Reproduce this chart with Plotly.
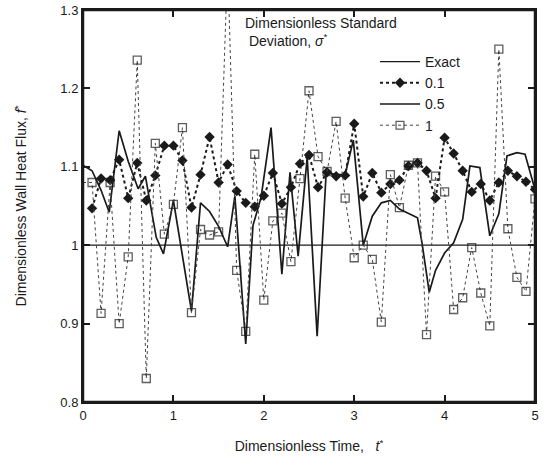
import plotly.graph_objects as go

# ---- data ----
t_grid = [round(0.1 * i, 1) for i in range(51)]

sigma_1 = [1.080, 1.080, 0.913, 1.080, 0.900, 0.985, 1.236, 0.830, 1.130, 1.014,
           1.052, 1.150, 0.914, 1.020, 1.013, 1.017, 1.360, 0.968, 0.890, 1.116,
           0.930, 1.031, 1.041, 0.979, 1.085, 1.197, 1.113, 1.094, 1.158, 1.060,
           0.984, 1.000, 0.982, 0.902, 1.090, 1.048, 1.102, 1.105, 0.886, 1.088,
           1.068, 0.918, 0.933, 0.997, 0.939, 0.897, 1.250, 1.021, 0.959, 0.941,
           1.059]

t_01 = t_grid[1:]
sigma_01 = [1.047, 1.085, 1.083, 1.109, 1.060, 1.105, 1.057, 1.089, 1.127, 1.127,
            1.108, 1.048, 1.090, 1.138, 1.080, 1.103, 1.069, 1.054, 1.049, 1.063,
            1.092, 1.053, 1.074, 1.104, 1.115, 1.074, 1.093, 1.088, 1.089, 1.155,
            1.062, 1.092, 1.067, 1.078, 1.083, 1.101, 1.105, 1.095, 1.060, 1.137,
            1.117, 1.095, 1.068, 1.078, 1.057, 1.080, 1.095, 1.088, 1.081, 1.071]

t_05 = [0.0, 0.1, 0.2, 0.29, 0.4, 0.5, 0.61, 0.69, 0.81, 0.89, 1.0, 1.1, 1.2, 1.3,
        1.4, 1.5, 1.6, 1.68, 1.8, 1.88, 1.97, 2.08, 2.2, 2.29, 2.38, 2.48, 2.59,
        2.69, 2.8, 2.9, 2.99, 3.1, 3.2, 3.3, 3.4, 3.5, 3.6, 3.7, 3.75, 3.83, 3.9,
        4.0, 4.1, 4.2, 4.28, 4.39, 4.5, 4.6, 4.69, 4.8, 4.89, 5.0]
sigma_05 = [1.102, 1.095, 1.070, 1.042, 1.146, 1.107, 1.072, 1.088, 1.010, 0.989,
            1.057, 0.987, 0.916, 1.054, 1.043, 1.024, 0.998, 1.063, 0.874, 1.025,
            1.061, 1.150, 0.963, 1.093, 0.986, 1.112, 0.884, 1.093, 1.090, 1.090,
            1.134, 1.000, 1.037, 1.054, 1.057, 1.046, 1.041, 1.035, 1.003, 0.940,
            0.968, 0.990, 1.003, 1.033, 1.101, 1.099, 1.012, 1.040, 1.114, 1.118,
            1.116, 1.071]

t_exact = [0.0, 5.0]
exact = [1.0, 1.0]

x_range = [0, 5]
y_range = [0.8, 1.3]
x_ticks = [0, 1, 2, 3, 4, 5]
x_labels = ["0", "1", "2", "3", "4", "5"]
y_ticks = [0.8, 0.9, 1.0, 1.1, 1.2, 1.3]
y_labels = ["0.8", "0.9", "1", "1.1", "1.2", "1.3"]

INK = "#1a1a1a"
FONT = "Liberation Sans, Arial, sans-serif"

fig = go.Figure()
fig.add_trace(go.Scatter(x=t_exact, y=exact, mode="lines", name="Exact",
                         line=dict(color=INK, width=1.3)))
fig.add_trace(go.Scatter(x=t_01, y=sigma_01, mode="lines+markers", name="0.1",
                         line=dict(color=INK, width=2, dash="dot"),
                         marker=dict(symbol="diamond", size=8, color=INK)))
fig.add_trace(go.Scatter(x=t_05, y=sigma_05, mode="lines", name="0.5",
                         line=dict(color=INK, width=1.7)))
sq_sizes = [0] + [8] * (len(t_grid) - 1)
fig.add_trace(go.Scatter(x=t_grid, y=sigma_1, mode="lines+markers", name="1",
                         line=dict(color="#444", width=1, dash="dot"),
                         marker=dict(symbol="square-open", size=sq_sizes, color=INK,
                                     line=dict(width=1.3, color=INK))))

axis_common = dict(showline=True, linecolor=INK, linewidth=2, mirror="allticks",
                   ticks="inside", ticklen=7, tickcolor=INK, tickwidth=1.5,
                   showgrid=False, zeroline=False, automargin=False,
                   tickfont=dict(family=FONT, size=13, color=INK))

fig.update_layout(
    xaxis=dict(range=x_range, tickmode="array", tickvals=x_ticks, ticktext=x_labels,
               title=dict(text="Dimensionless Time,   <i>t</i><sup>*</sup>",
                          font=dict(family=FONT, size=14, color=INK), standoff=20),
               **axis_common),
    yaxis=dict(range=y_range, tickmode="array", tickvals=y_ticks, ticktext=y_labels,
               title=dict(text="Dimensionless Wall Heat Flux, <i>f</i><sup>*</sup>",
                          font=dict(family=FONT, size=14, color=INK), standoff=30),
               **axis_common),
)

# plot frame in data coordinates
fig.add_shape(type="rect", xref="x", yref="y",
              x0=x_range[0], x1=x_range[1], y0=y_range[0], y1=y_range[1],
              line=dict(color=INK, width=2.5), layer="above")

fig.add_annotation(xref="paper", yref="paper", x=(243 - 83) / 452, y=1 - (13 - 10) / 392,
                   xanchor="left", yanchor="top", align="left", showarrow=False,
                   text="Dimensionless Standard<br> Deviation, <i>σ</i><sup>*</sup>",
                   font=dict(family=FONT, size=14, color=INK))

fig.update_layout(
    width=551, height=470,
    margin=dict(l=83, r=16, t=10, b=68),
    paper_bgcolor="white", plot_bgcolor="white",
    showlegend=True,
    legend=dict(x=(375 - 83) / 452, y=1 - (46 - 10) / 392, xanchor="left", yanchor="top",
                bgcolor="rgba(0,0,0,0)", tracegroupgap=0, itemwidth=40,
                font=dict(family=FONT, size=14, color=INK)),
    font=dict(family=FONT, color=INK),
)

fig.write_html("out.html", config={"displayModeBar": False},
               post_script="document.body.style.margin='0';")
